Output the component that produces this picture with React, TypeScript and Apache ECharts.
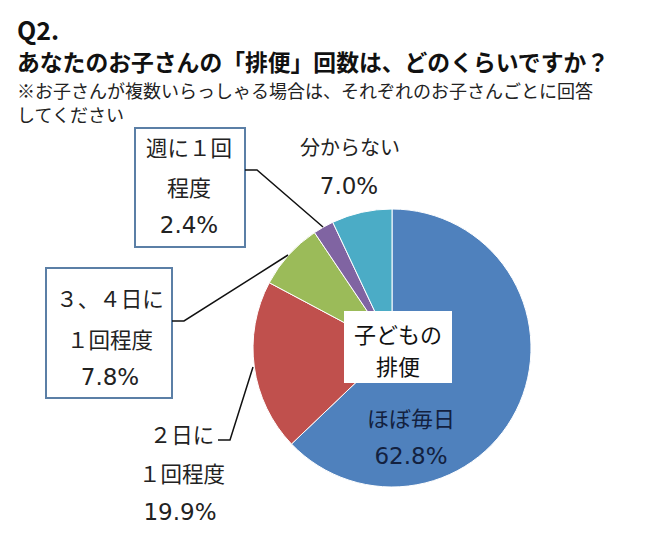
import React, { useEffect, useRef } from "react";
import * as echarts from "echarts";

const categories = ["ほぼ毎日", "２日に１回程度", "３、４日に１回程度", "週に１回程度", "分からない"];
const values = [62.8, 19.9, 7.8, 2.4, 7.0];
const colors = ["#4F81BD", "#C0504D", "#9BBB59", "#8064A2", "#4BACC6"];
const labelHead = ["ほぼ毎日", "２日に", "３、４日に", "週に１回", "分からない"];
const labelMid = ["", "１回程度", "１回程度", "程度", ""];
const titleQ = "Q2.";
const titleMain = "あなたのお子さんの「排便」回数は、どのくらいですか？";
const note1 = "※お子さんが複数いらっしゃる場合は、それぞれのお子さんごとに回答";
const note2 = "してください";
const centerText = ["子どもの", "排便"];

const FONT = "'Noto Sans CJK JP', 'Noto Sans', sans-serif";
const NUMFONT = "'DejaVu Sans', 'Noto Sans', sans-serif";

function txt(text: string, x: number, y: number, size: number, fill = "#222", weight: any = "normal", align = "center", family = FONT) {
  return {
    type: "text",
    z: 100,
    x,
    y,
    style: {
      text,
      fill,
      fontSize: size,
      fontWeight: weight,
      fontFamily: family,
      align,
      textAlign: align,
      verticalAlign: "middle",
      textVerticalAlign: "middle",
    },
  };
}

function num(text: string, x: number, y: number, size = 23, fill = "#222") {
  return txt(text, x, y, size, fill, "normal", "center", NUMFONT);
}

function box(x: number, y: number, w: number, h: number, stroke = "#5B7FA6") {
  return {
    type: "rect",
    z: 90,
    shape: { x, y, width: w, height: h },
    style: { fill: "#fff", stroke, lineWidth: 2 },
  };
}

function leader(points: number[][]) {
  return {
    type: "polyline",
    z: 95,
    shape: { points },
    style: { stroke: "#111", lineWidth: 1.5, fill: null },
  };
}

const pct = (v: number) => v.toFixed(1) + "%";

export default function App() {
  const ref = useRef<HTMLDivElement>(null);
  useEffect(() => {
    if (!ref.current) return;
    const chart = echarts.init(ref.current, undefined, { renderer: "svg" });
    const graphic: any[] = [
      txt(titleQ, 17, 29, 25, "#111", "bold", "left"),
      txt(titleMain, 17, 61, 22.8, "#111", "bold", "left"),
      txt(note1, 17, 90, 18, "#222", "normal", "left"),
      txt(note2, 17, 114, 18, "#222", "normal", "left"),
      // center box
      { type: "rect", z: 90, shape: { x: 344, y: 311, width: 108, height: 72 }, style: { fill: "#fff" } },
      txt(centerText[0], 398, 333, 22, "#111"),
      txt(centerText[1], 398, 365, 22, "#111"),
      // inside label for largest slice
      txt(labelHead[0], 411, 417, 22, "#13213F"),
      num(pct(values[0]), 411, 456, 23, "#13213F"),
      // 分からない
      txt(labelHead[4], 350, 146, 20),
      num(pct(values[4]), 349, 186),
      // 週に1回 程度
      box(135, 128, 110, 119),
      txt(labelHead[3], 189, 146, 21.5),
      txt(labelMid[3], 189, 186, 22),
      num(pct(values[3]), 189, 225),
      leader([[245, 170], [257, 170], [323, 227]]),
      // 3、4日に
      box(46, 268, 126, 130),
      txt(labelHead[2], 110, 297, 21.5),
      txt(labelMid[2], 110, 338, 21.5),
      num(pct(values[2]), 110, 377),
      leader([[172, 321], [184, 321], [288, 255]]),
      // 2日に
      txt(labelHead[1], 182, 433, 21.5),
      txt(labelMid[1], 182, 472, 21.5),
      num(pct(values[1]), 180, 512),
      leader([[218, 440], [230, 440], [253, 367]]),
    ];
    chart.setOption({
      animation: false,
      backgroundColor: "#fff",
      series: [
        {
          type: "pie",
          center: [392, 348],
          radius: 139,
          startAngle: 90,
          clockwise: true,
          label: { show: false },
          labelLine: { show: false },
          emphasis: { disabled: true },
          itemStyle: { borderColor: "#fff", borderWidth: 1 },
          data: categories.map((name, i) => ({ name, value: values[i], itemStyle: { color: colors[i] } })),
        },
      ],
      graphic,
    });
    return () => chart.dispose();
  }, []);
  return <div ref={ref} style={{ position: "fixed", left: 0, top: 0, width: 650, height: 544 }} />;
}
